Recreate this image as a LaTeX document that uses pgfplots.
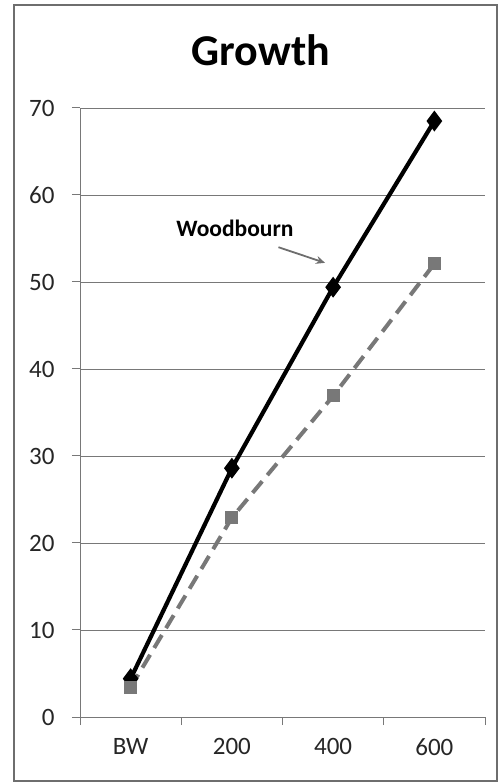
\documentclass[border=0pt]{standalone}
\usepackage{pgfplots}
\pgfplotsset{compat=1.18}
\usepackage{fontspec}
\setmainfont{Carlito}
\usetikzlibrary{arrows.meta}
\definecolor{dgray}{RGB}{110,110,110}
\definecolor{lgray}{RGB}{120,120,120}
\begin{document}
\begin{tikzpicture}[x=1pt,y=1pt]
\useasboundingbox (-80,-66) rectangle (422,717);
\draw[draw=dgray, line width=1.2pt] (-66,-64) rectangle (417,712);
\node[font=\fontsize{44}{44}\selectfont\bfseries] at (181,667) {Growth};
\begin{axis}[
  at={(0,0)}, anchor=south west,
  scale only axis, width=405pt, height=609pt,
  xmin=-0.5, xmax=3.5, ymin=0, ymax=70,
  axis lines*=left,
  axis line style={draw=lgray, line width=1pt},
  ytick={0,10,...,70},
  ymajorgrids,
  grid style={draw=lgray, line width=0.9pt},
  xtick={0,1,2,3}, xticklabels={BW,200,400,600},
  major x tick style={draw=none},
  minor xtick={-0.5,0.5,1.5,2.5,3.5},
  tick align=outside,
  major tick length=8pt, minor tick length=8pt,
  tick style={draw=lgray, line width=1pt},
  every tick label/.append style={font=\fontsize{25}{25}\selectfont, text=black!85},
  /pgf/number format/assume math mode=true,
  xticklabel style={yshift=-10pt},
  yticklabel style={xshift=-14pt},
  clip=false,
]
\addplot[draw=black, line width=4.2pt, mark=diamond*, mark size=7pt, mark options={solid, fill=black}]
  coordinates {(0,4.4) (1,28.6) (2,49.4) (3,68.5)};
\addplot[draw=lgray, line width=4pt, dash pattern=on 15pt off 8pt, mark=square*, mark size=4.5pt, mark options={solid, fill=lgray, draw=lgray}]
  coordinates {(0,3.4) (1,22.9) (2,36.9) (3,52.1)};
\node[font=\fontsize{23.5}{23.5}\selectfont\bfseries] at (axis cs:1.03,56.2) {Woodbourn};
\draw[draw=dgray, line width=1.8pt, -{Stealth[length=9pt,width=8pt]}] (axis cs:1.46,54.0) -- (axis cs:1.92,52.2);
\end{axis}
\end{tikzpicture}
\end{document}
